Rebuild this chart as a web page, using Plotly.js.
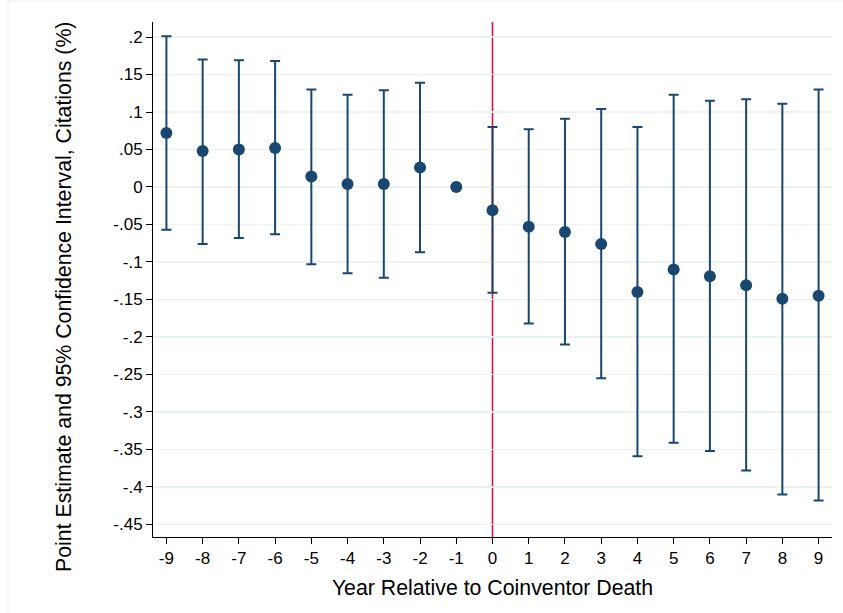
<!DOCTYPE html>
<html>
<head>
<meta charset="utf-8">
<script src="https://cdn.plot.ly/plotly-3.0.1.min.js"></script>
<style>html,body{margin:0;padding:0;background:#fff;}#chart{width:843px;height:613px;}</style>
</head>
<body>
<div id="chart"></div>
<script>
const years = [-9,-8,-7,-6,-5,-4,-3,-2,-1,0,1,2,3,4,5,6,7,8,9];
const estimate = [0.072,0.048,0.050,0.052,0.014,0.004,0.004,0.026,0.000,-0.031,-0.053,-0.060,-0.076,-0.140,-0.110,-0.119,-0.131,-0.149,-0.145];
const upper = [0.201,0.170,0.169,0.168,0.130,0.123,0.129,0.139,null,0.080,0.077,0.091,0.104,0.080,0.123,0.115,0.117,0.111,0.130];
const lower = [-0.057,-0.076,-0.068,-0.063,-0.103,-0.115,-0.121,-0.087,null,-0.141,-0.182,-0.210,-0.255,-0.359,-0.341,-0.352,-0.378,-0.410,-0.418];
const yTickVals = [0.2,0.15,0.1,0.05,0,-0.05,-0.1,-0.15,-0.2,-0.25,-0.3,-0.35,-0.4,-0.45];
const yTickText = ['.2','.15','.1','.05','0','-.05','-.1','-.15','-.2','-.25','-.3','-.35','-.4','-.45'];
const xTitle = 'Year Relative to Coinventor Death';
const yTitle = 'Point Estimate and 95% Confidence Interval, Citations (%)';
const eventYear = 0;

const plus = upper.map((u,i)=> u===null ? null : u - estimate[i]);
const minus = lower.map((l,i)=> l===null ? null : estimate[i] - l);

const navy = '#1a476f';
const trace = {
  x: years, y: estimate, type: 'scatter', mode: 'markers',
  marker: {color: navy, size: 12},
  error_y: {type: 'data', symmetric: false, array: plus, arrayminus: minus,
            color: navy, thickness: 2, width: 5},
  hoverinfo: 'x+y', showlegend: false
};

const font = '"Liberation Sans", Arial, sans-serif';
const layout = {
  width: 843, height: 613,
  margin: {l: 153, r: 11, t: 22, b: 76},
  paper_bgcolor: '#ffffff', plot_bgcolor: '#ffffff',
  font: {family: font, color: '#000000', size: 17},
  showlegend: false,
  xaxis: {
    range: [-9.37, 9.37], tickvals: years, ticktext: years.map(String),
    showgrid: false, zeroline: false,
    showline: true, linecolor: '#000000', linewidth: 1,
    ticks: 'outside', ticklen: 6, tickcolor: '#000000', tickwidth: 1,
    tickfont: {family: font, size: 17, color: '#000'},
    title: {text: xTitle, font: {family: font, size: 21.3, color: '#000'}, standoff: 12}
  },
  yaxis: {
    range: [-0.4667, 0.22], tickvals: yTickVals, ticktext: yTickText,
    showgrid: true, gridcolor: '#eaf2f3', gridwidth: 1.2, zeroline: false,
    showline: true, linecolor: '#000000', linewidth: 1,
    ticks: 'outside', ticklen: 6, tickcolor: '#000000', tickwidth: 1,
    tickfont: {family: font, size: 17, color: '#000'}
  },
  annotations: [
    {text: yTitle, xref: 'paper', yref: 'paper', x: -0.1311, y: 0.466,
     xanchor: 'center', yanchor: 'middle', textangle: -90, showarrow: false,
     font: {family: font, size: 21.3, color: '#000'}}
  ],
  shapes: [
    {type: 'line', xref: 'x', yref: 'paper', x0: eventYear, x1: eventYear, y0: 0, y1: 1,
     line: {color: '#d7153a', width: 1.6}, layer: 'between'},
    {type: 'rect', xref: 'paper', yref: 'paper', x0: -0.2135, x1: 1.2, y0: -0.3, y1: 1.0408,
     line: {color: '#eaf2f3', width: 1.2}, fillcolor: 'rgba(0,0,0,0)', layer: 'below'}
  ]
};

Plotly.newPlot('chart', [trace], layout, {displayModeBar: false, staticPlot: true});
</script>
</body>
</html>
